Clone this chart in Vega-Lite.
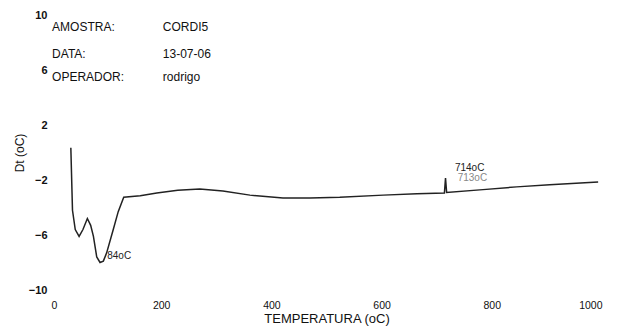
{
  "$schema": "https://vega.github.io/schema/vega-lite/v6.json",
  "width": 551,
  "height": 275,
  "autosize": {"type": "none"},
  "padding": {"left": 51, "top": 15, "right": 18, "bottom": 44},
  "background": "white",
  "config": {
    "view": {"stroke": null},
    "font": "Liberation Sans",
    "axis": {"domain": false, "ticks": false, "grid": false, "labelFont": "Liberation Sans", "labelColor": "#111", "titleFont": "Liberation Sans", "titleFontWeight": "normal", "titleColor": "#111"}
  },
  "datasets": {
    "curve": [
      {"t": 36, "dt": 0.35},
      {"t": 39, "dt": -4.2},
      {"t": 44, "dt": -5.6},
      {"t": 51, "dt": -6.1},
      {"t": 58, "dt": -5.6},
      {"t": 66, "dt": -4.8},
      {"t": 72, "dt": -5.3},
      {"t": 77, "dt": -6.1},
      {"t": 83, "dt": -7.6},
      {"t": 89, "dt": -8.0},
      {"t": 95, "dt": -7.9},
      {"t": 101, "dt": -7.3},
      {"t": 113, "dt": -5.6},
      {"t": 122, "dt": -4.3},
      {"t": 132, "dt": -3.25},
      {"t": 162, "dt": -3.15},
      {"t": 192, "dt": -2.95},
      {"t": 230, "dt": -2.75},
      {"t": 270, "dt": -2.65},
      {"t": 312, "dt": -2.8},
      {"t": 361, "dt": -3.1},
      {"t": 421, "dt": -3.3},
      {"t": 470, "dt": -3.3},
      {"t": 524, "dt": -3.25},
      {"t": 603, "dt": -3.1},
      {"t": 664, "dt": -3.0},
      {"t": 714, "dt": -2.95},
      {"t": 716, "dt": -1.85},
      {"t": 718, "dt": -2.9},
      {"t": 784, "dt": -2.7},
      {"t": 845, "dt": -2.5},
      {"t": 905, "dt": -2.35},
      {"t": 993, "dt": -2.15}
    ],
    "header": [
      {"t": 2, "dt": 9.1, "label": "AMOSTRA:"},
      {"t": 2, "dt": 7.2, "label": "DATA:"},
      {"t": 2, "dt": 5.5, "label": "OPERADOR:"},
      {"t": 203, "dt": 9.1, "label": "CORDI5"},
      {"t": 203, "dt": 7.2, "label": "13-07-06"},
      {"t": 203, "dt": 5.5, "label": "rodrigo"}
    ],
    "peaks": [
      {"t": 102, "dt": -7.5, "label": "84oC", "tone": "a"},
      {"t": 733, "dt": -1.15, "label": "714oC", "tone": "a"},
      {"t": 738, "dt": -1.85, "label": "713oC", "tone": "b"}
    ]
  },
  "layer": [
    {
      "data": {"name": "curve"},
      "mark": {"type": "line", "color": "#222", "strokeWidth": 1.5},
      "encoding": {
        "x": {"field": "t", "type": "quantitative", "scale": {"domain": [0, 1000], "nice": false}, "axis": {"values": [0, 200, 400, 600, 800, 1000], "format": "d", "labelFontSize": 10.5, "labelPadding": 10, "title": "TEMPERATURA (oC)", "titleFontSize": 13, "titlePadding": 2}},
        "y": {"field": "dt", "type": "quantitative", "scale": {"domain": [-10, 10], "nice": false}, "axis": {"values": [-10, -6, -2, 2, 6, 10], "format": "d", "labelFontSize": 11, "labelFontWeight": "bold", "labelPadding": 4, "title": "Dt (oC)", "titleFontSize": 12, "titlePadding": 2}}
      }
    },
    {
      "data": {"name": "header"},
      "mark": {"type": "text", "align": "left", "baseline": "middle", "fontSize": 12, "color": "#111"},
      "encoding": {
        "x": {"field": "t", "type": "quantitative"},
        "y": {"field": "dt", "type": "quantitative"},
        "text": {"field": "label"}
      }
    },
    {
      "data": {"name": "peaks"},
      "mark": {"type": "text", "align": "left", "baseline": "middle", "fontSize": 10},
      "encoding": {
        "x": {"field": "t", "type": "quantitative"},
        "y": {"field": "dt", "type": "quantitative"},
        "text": {"field": "label"},
        "color": {"field": "tone", "type": "nominal", "scale": {"domain": ["a", "b"], "range": ["#222", "#888"]}, "legend": null}
      }
    }
  ]
}
